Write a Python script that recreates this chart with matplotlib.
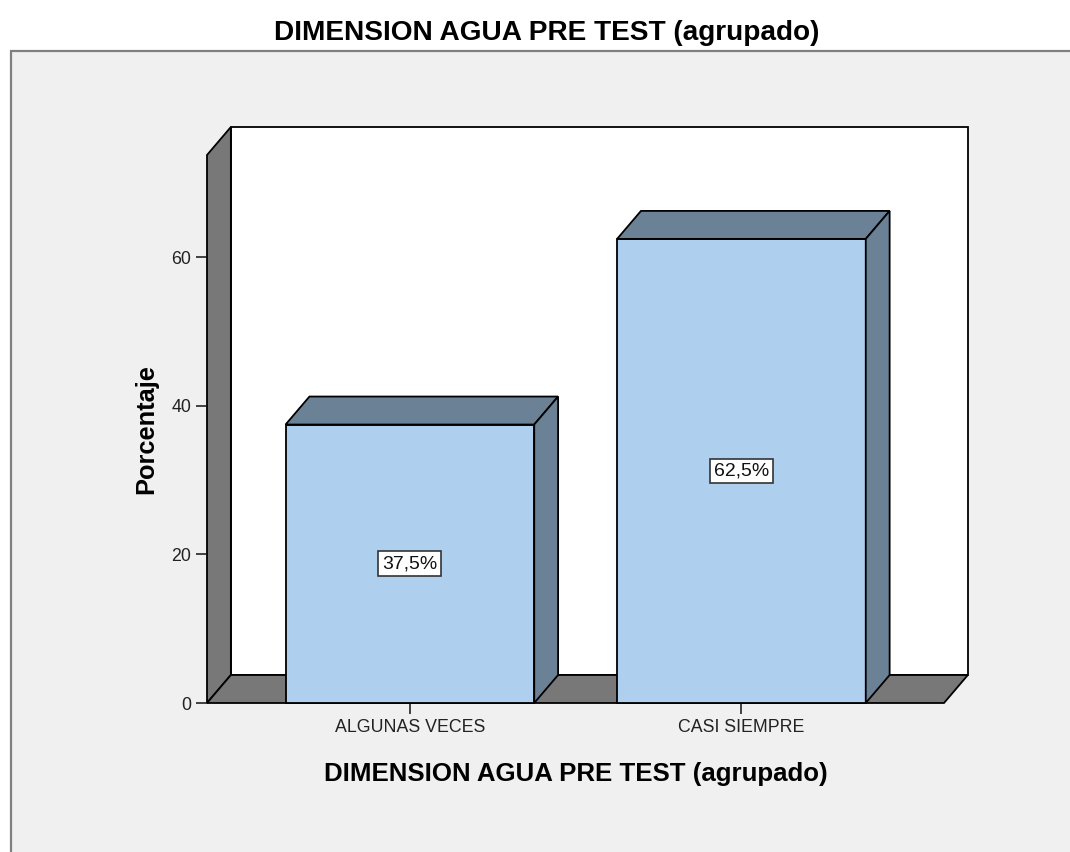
import matplotlib
matplotlib.use("Agg")
import matplotlib.pyplot as plt
from matplotlib.patches import Polygon, Rectangle

# datos del grafico
categorias = ["ALGUNAS VECES", "CASI SIEMPRE"]
porcentajes = [37.5, 62.5]
etiquetas = ["37,5%", "62,5%"]
ticks_y = [0, 20, 40, 60]

titulo = "DIMENSION AGUA PRE TEST (agrupado)"

plt.rcParams["font.family"] = ["Liberation Sans", "DejaVu Sans"]

fig = plt.figure(figsize=(10.7, 8.52), dpi=100)
fig.patch.set_facecolor("white")

# marco gris del grafico
marco = Rectangle((11 / 1070, -0.1), 1.2, (852 - 51) / 852 + 0.1,
                  transform=fig.transFigure, facecolor="#f0f0f0",
                  edgecolor="#808080", linewidth=1.6, zorder=-1)
fig.patches.append(marco)

ax = fig.add_axes([207 / 1070, 149 / 852, 737 / 1070, 548 / 852])
ax.set_facecolor("none")
for s in ax.spines.values():
    s.set_visible(False)

x0, x1 = -0.612, 1.611
ymax = 73.8
ax.set_xlim(x0, x1)
ax.set_ylim(0, ymax)

# profundidad 3D
dx, dy = 0.072, 3.77
gris = "#787878"
lw = 1.3

pared_izq = Polygon([(x0, 0), (x0, ymax), (x0 + dx, ymax + dy), (x0 + dx, dy)],
                    closed=True, facecolor=gris, edgecolor="black", lw=lw, clip_on=False)
piso = Polygon([(x0, 0), (x1, 0), (x1 + dx, dy), (x0 + dx, dy)],
               closed=True, facecolor=gris, edgecolor="black", lw=lw, clip_on=False)
fondo = Polygon([(x0 + dx, dy), (x0 + dx, ymax + dy), (x1 + dx, ymax + dy), (x1 + dx, dy)],
                closed=True, facecolor="white", edgecolor="black", lw=lw, clip_on=False)
ax.add_patch(fondo)
ax.add_patch(pared_izq)
ax.add_patch(piso)

ancho = 0.75
frente = "#aecfee"
lado = "#6b8196"
for i, v in enumerate(porcentajes):
    a = i - ancho / 2
    b = i + ancho / 2
    ax.add_patch(Polygon([(a, 0), (a, v), (b, v), (b, 0)], closed=True,
                         facecolor=frente, edgecolor="black", lw=lw, clip_on=False, zorder=3))
    ax.add_patch(Polygon([(a, v), (a + dx, v + dy), (b + dx, v + dy), (b, v)], closed=True,
                         facecolor=lado, edgecolor="black", lw=lw, clip_on=False, zorder=3))
    ax.add_patch(Polygon([(b, 0), (b, v), (b + dx, v + dy), (b + dx, dy)], closed=True,
                         facecolor=lado, edgecolor="black", lw=lw, clip_on=False, zorder=3))
    ax.text(i, v / 2, etiquetas[i], ha="center", va="center", fontsize=14, zorder=5,
            color="#111111",
            bbox=dict(boxstyle="square,pad=0.2", facecolor="white", edgecolor="#333333", lw=1.2))

ax.set_yticks(ticks_y)
ax.set_xticks(range(len(categorias)))
ax.set_xticklabels(categorias)
ax.tick_params(axis="both", direction="out", length=8, width=1.1, color="#111111",
               labelsize=12.8, labelcolor="#222222", pad=3.5)

ax.set_xlabel(titulo, fontsize=18.6, fontweight="bold", labelpad=19)
ax.set_ylabel("Porcentaje", fontsize=18.3, fontweight="bold", labelpad=9)

fig.text(546.5 / 1070, 1 - 33 / 852, titulo, ha="center", va="center",
         fontsize=20.2, fontweight="bold")

fig.savefig("out.png", dpi=100)
